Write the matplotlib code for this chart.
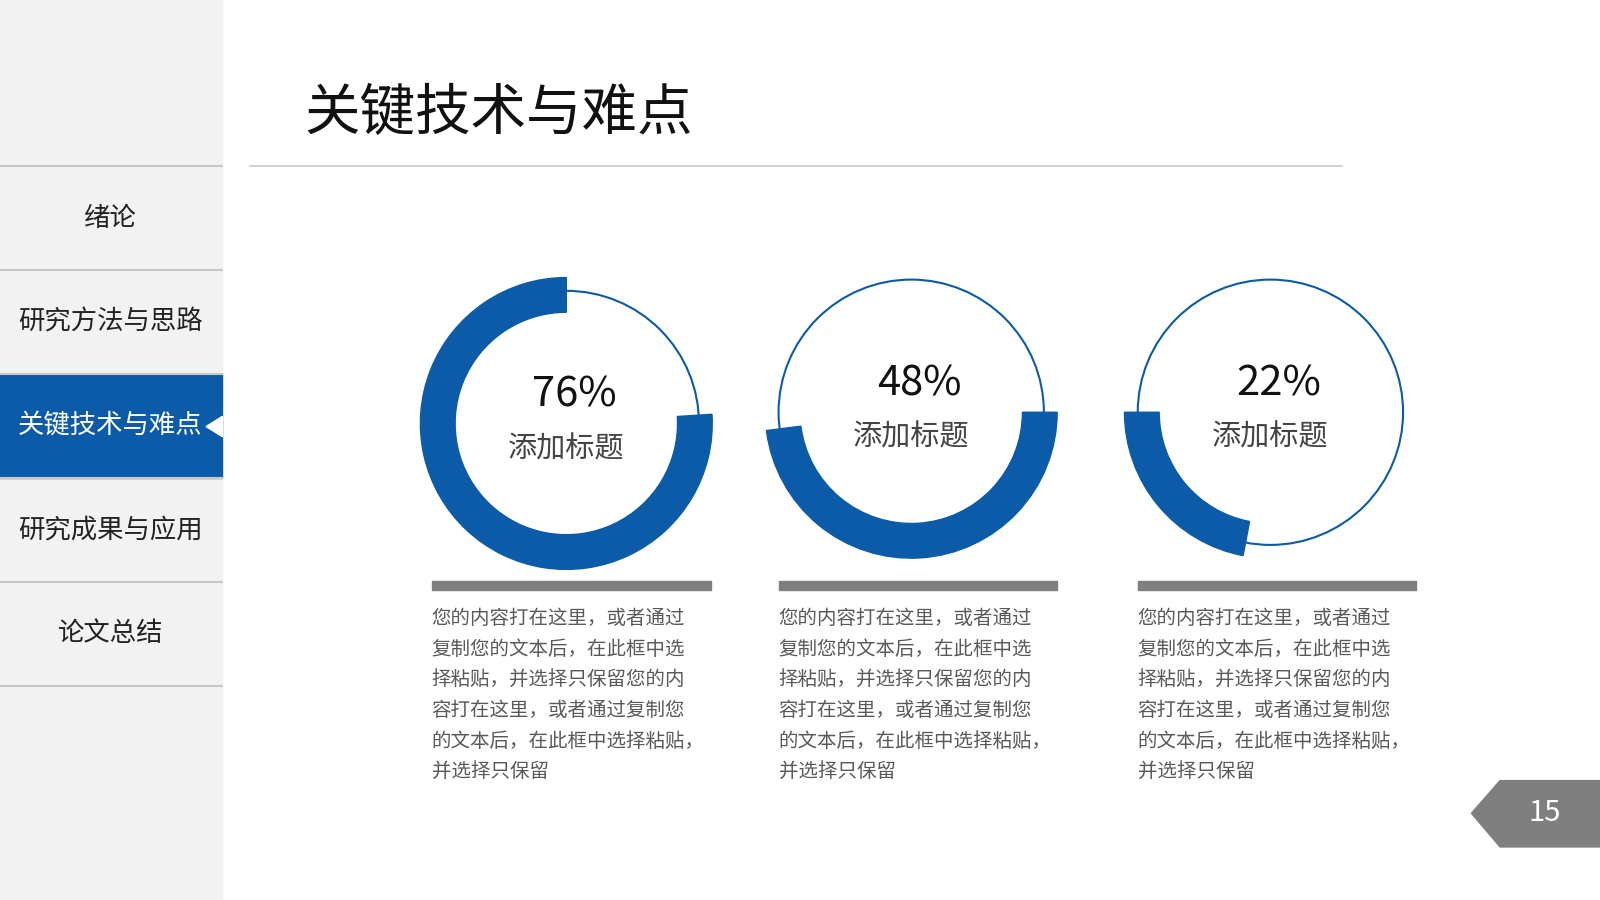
import matplotlib
matplotlib.use("Agg")
import matplotlib.pyplot as plt
from matplotlib.patches import Wedge, Circle, Rectangle, Polygon

plt.rcParams['font.family'] = ['Noto Sans CJK SC', 'DejaVu Sans']

title = "关键技术与难点"
nav_items = ["绪论", "研究方法与思路", "关键技术与难点", "研究成果与应用", "论文总结"]
active_index = 2
percents = [76, 48, 22]
start_angles = [90, None, 180]  # None: arc ends at 3 o'clock
captions = ["添加标题", "添加标题", "添加标题"]
body = "您的内容打在这里，或者通过\n复制您的文本后，在此框中选\n择粘贴，并选择只保留您的内\n容打在这里，或者通过复制您\n的文本后，在此框中选择粘贴，\n并选择只保留"
page = "15"

BLUE = "#0b5ba8"
W, H = 1568, 882
fig = plt.figure(figsize=(16, 9), dpi=100)
ax = fig.add_axes([0, 0, 1, 1])
ax.set_xlim(0, W); ax.set_ylim(H, 0); ax.axis('off')

# sidebar
ax.add_patch(Rectangle((0, 0), 218, H, color="#f2f2f2", zorder=0))
ys = [163, 265, 367, 468, 570, 672]
for y in ys:
    ax.plot([0, 218], [y, y], color="#c8c8c8", lw=1.5)
for i, name in enumerate(nav_items):
    y0, y1 = ys[i], ys[i + 1]
    col = "#222222"
    if i == active_index:
        ax.add_patch(Rectangle((0, y0), 218, y1 - y0, color=BLUE, zorder=1))
        ax.add_patch(Polygon([[218, 408], [218, 428], [202, 418]], color="white", zorder=2))
        col = "white"
    ax.text(108, (y0 + y1) / 2, name, ha='center', va='center', fontsize=19, color=col, zorder=3)

# title
ax.text(298, 112, title, ha='left', va='center', fontsize=40, color="#111111")
ax.plot([245, 1315], [163, 163], color="#c8c8c8", lw=1.2)

centers = [(555, 415), (893, 404), (1245, 404)]
bars = [(423, 697), (763, 1036), (1115, 1388)]
for (cx, cy), p, sa, cap, (bx0, bx1) in zip(centers, percents, start_angles, captions, bars):
    span = p / 100 * 360
    # y axis inverted: convert angles (counterclockwise on screen) by negating
    if sa is None:
        t1, t2 = 0, span  # screen: from 3 o'clock going down (clockwise on screen)
        th1, th2 = -t2, -t1
        th1, th2 = 360 - span, 360
        # on inverted y, angle a maps to -a; arc going from 3 o'clock through bottom
        th1, th2 = 0, span
    else:
        # screen counterclockwise from sa
        th1, th2 = -(sa + span), -sa
    ax.add_patch(Circle((cx, cy), 130, fill=False, ec=BLUE, lw=1.5))
    ax.add_patch(Wedge((cx, cy), 143, th1, th2, width=34, color=BLUE))
    ax.text(cx + 8, cy - 28, f"{p}%", ha='center', va='center', fontsize=30, color="#111111")
    ax.text(cx, cy + 25, cap, ha='center', va='center', fontsize=21, color="#444444")
    ax.add_patch(Rectangle((bx0, 569), bx1 - bx0, 9, color="#7f7f7f"))
    ax.text(bx0, 596, body, ha='left', va='top', fontsize=14, color="#595959", linespacing=1.6)

# page badge
ax.add_patch(Polygon([[1470, 765], [W, 765], [W, 830], [1470, 830], [1442, 797]], color="#7f7f7f"))
ax.text(1514, 797, page, ha='center', va='center', fontsize=21, color="white")

fig.savefig("out.png", dpi=100)
